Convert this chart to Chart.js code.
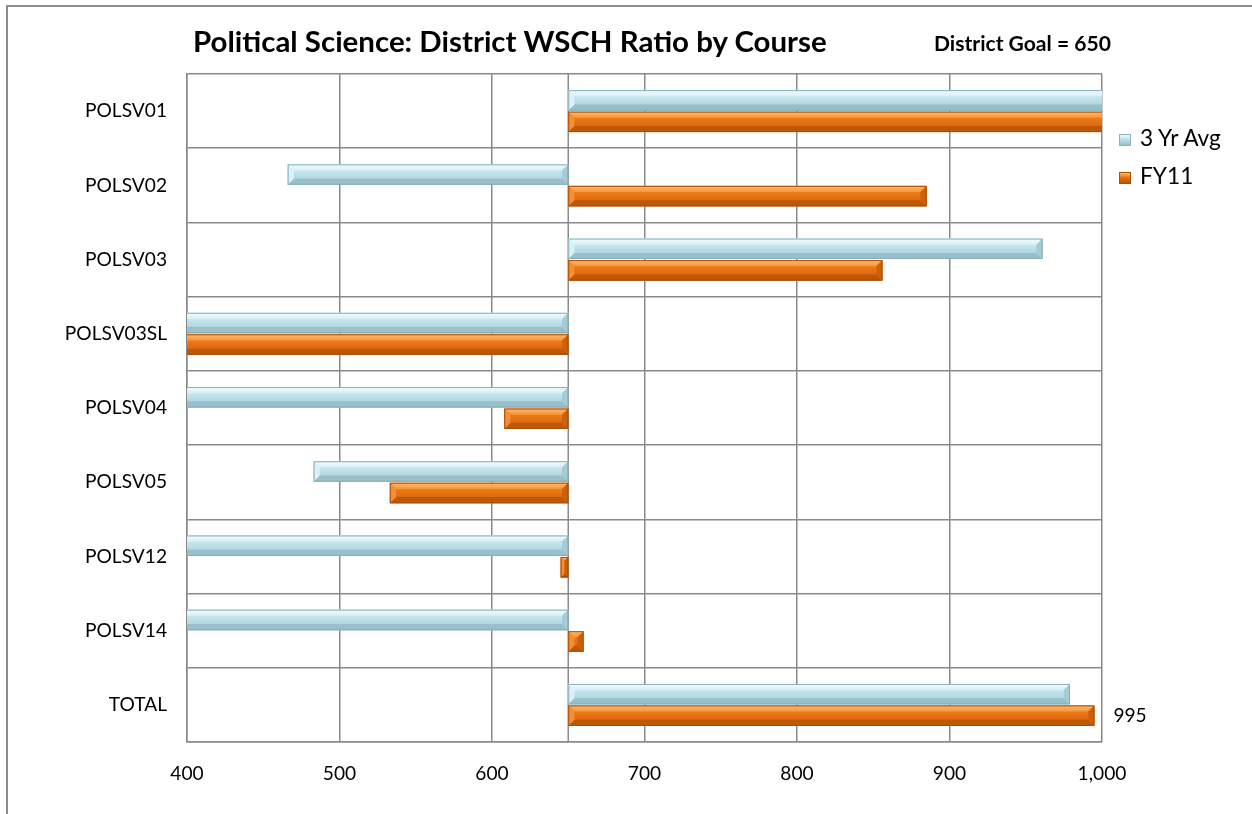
<!DOCTYPE html>
<html>
<head>
<meta charset="utf-8">
<script src="https://cdn.jsdelivr.net/npm/chart.js@4.4.0/dist/chart.umd.min.js"></script>
<style>
  html, body { margin: 0; padding: 0; background: #fff; }
  #wrap { position: relative; width: 1252px; height: 814px; overflow: hidden; }
  #frame { position: absolute; left: 6px; top: 5px; width: 1400px; height: 1000px;
           border-left: 2px solid #8c8c8c; border-top: 2px solid #8c8c8c; box-sizing: border-box; }
  canvas { position: absolute; left: 0; top: 0; }
  .txt { position: absolute; white-space: nowrap; color: #000; margin: 0; padding: 0; }
  .sw { position: absolute; width: 12px; height: 12px; box-sizing: border-box; }
</style>
</head>
<body>
<div id="wrap">
  <div id="frame"></div>
  <canvas id="c" width="1252" height="814"></canvas>
  <div id="title" class="txt"></div>
  <div id="goal" class="txt"></div>
  <div id="legend"></div>
</div>
<script>
// ---------------- data ----------------
const chartTitle = 'Political Science: District WSCH Ratio by Course';
const categories = ['POLSV01', 'POLSV02', 'POLSV03', 'POLSV03SL', 'POLSV04', 'POLSV05', 'POLSV12', 'POLSV14', 'TOTAL'];
const threeYrAvg = [1060, 466, 961, 340, 330, 483, 350, 360, 979];
const fy11       = [1090, 885, 856, 320, 608, 533, 645, 660, 995];
const seriesNames = ['3 Yr Avg', 'FY11'];
const districtGoal = 650;
const xMin = 400, xMax = 1000, xStep = 100;
const labelledIndex = 8; // FY11 value shown as a data label (TOTAL)

// ---------------- styling ----------------
const FONT = 'Lato';
const fillColors = ['#b9dde7', '#e46c0a'];
const edgeColors = ['#8ab3bf', '#ad5109'];
const palettes = [
  { top: '#f2fbfd', topIn: '#d6eff6', main: ['#c8e7ef', '#b0d6e0'], bottom: '#98bfca', left: '#dcf1f6', right: '#a4cbd6', edge: '#86afbb' },
  { top: '#fdbb70', topIn: '#f7963a', main: ['#ec7c1a', '#e0690c'], bottom: '#bd570a', left: '#f38f35', right: '#cd610b', edge: '#a94f08' }
];
const gridColor = '#8a8a8a';

const mctx = document.createElement('canvas').getContext('2d');
function fitSize(text, weight, target) {
  mctx.font = weight + ' 100px ' + FONT;
  return 100 * target / mctx.measureText(text).width;
}
const labelSize = fitSize('POLSV01', 'normal', 82);
const legendSize = fitSize('3 Yr Avg', 'normal', 83);

function place(el, text, weight, size, left, baseline) {
  mctx.font = weight + ' ' + size + 'px ' + FONT;
  const m = mctx.measureText(text);
  const asc = m.fontBoundingBoxAscent, desc = m.fontBoundingBoxDescent;
  el.textContent = text;
  el.style.font = weight + ' ' + size + 'px ' + FONT;
  el.style.lineHeight = (asc + desc) + 'px';
  el.style.left = left + 'px';
  el.style.top = (baseline - asc) + 'px';
}

// title & goal
const titleEl = document.getElementById('title');
place(titleEl, chartTitle, 'bold', fitSize(chartTitle, 'bold', 635), 193, 52);
const goalText = 'District Goal = ' + districtGoal;
place(document.getElementById('goal'), goalText, 'bold', fitSize(goalText, 'bold', 177), 934, 51);

// legend (html)
const legend = document.getElementById('legend');
seriesNames.forEach((name, i) => {
  const sw = document.createElement('div');
  sw.className = 'sw';
  sw.style.left = '1119px';
  sw.style.top = (134 + i * 38) + 'px';
  sw.style.background = 'linear-gradient(' + palettes[i].top + ',' + fillColors[i] + ' 50%,' + palettes[i].bottom + ')';
  sw.style.border = '1px solid ' + edgeColors[i];
  legend.appendChild(sw);
  const t = document.createElement('div');
  t.className = 'txt';
  legend.appendChild(t);
  place(t, name, 'normal', legendSize, 1140, 146 + i * 38);
});

// ---------------- plugins ----------------
const goalLine = {
  id: 'goalLine',
  beforeDatasetsDraw(chart) {
    const { ctx, chartArea: a, scales: { x } } = chart;
    const px = x.getPixelForValue(districtGoal);
    ctx.save();
    ctx.strokeStyle = gridColor;
    ctx.lineWidth = 1.5;
    ctx.beginPath();
    ctx.moveTo(px, a.top);
    ctx.lineTo(px, a.bottom);
    ctx.stroke();
    ctx.restore();
  }
};

const barShadow = {
  id: 'barShadow',
  beforeDatasetsDraw(chart) {
    const ctx = chart.ctx;
    ctx.save();
    ctx.shadowColor = 'rgba(0,0,0,0.35)';
    ctx.shadowBlur = 4;
    ctx.shadowOffsetX = 1.5;
    ctx.shadowOffsetY = 2;
  },
  afterDatasetsDraw(chart) { chart.ctx.restore(); }
};

function poly(ctx, pts, fill) {
  ctx.beginPath();
  ctx.moveTo(pts[0][0], pts[0][1]);
  for (let i = 1; i < pts.length; i++) ctx.lineTo(pts[i][0], pts[i][1]);
  ctx.closePath();
  ctx.fillStyle = fill;
  ctx.fill();
}

function drawBevel(ctx, xL, xR, T, B, c) {
  const h = B - T;
  const b = Math.min(h * 0.3, (xR - xL) / 2);
  const g = ctx.createLinearGradient(0, T + b, 0, B - b);
  g.addColorStop(0, c.main[0]);
  g.addColorStop(1, c.main[1]);
  ctx.fillStyle = g;
  ctx.fillRect(xL, T, xR - xL, h);
  const gt = ctx.createLinearGradient(0, T, 0, T + b);
  gt.addColorStop(0, c.top);
  gt.addColorStop(1, c.topIn);
  poly(ctx, [[xL, T], [xR, T], [xR - b, T + b], [xL + b, T + b]], gt);
  poly(ctx, [[xL, B], [xR, B], [xR - b, B - b], [xL + b, B - b]], c.bottom);
  poly(ctx, [[xL, T], [xL + b, T + b], [xL + b, B - b], [xL, B]], c.left);
  poly(ctx, [[xR, T], [xR - b, T + b], [xR - b, B - b], [xR, B]], c.right);
  ctx.strokeStyle = c.edge;
  ctx.lineWidth = 1;
  ctx.strokeRect(xL + 0.5, T + 0.5, xR - xL - 1, h - 1);
}

const bevel = {
  id: 'bevel',
  afterDatasetsDraw(chart) {
    const ctx = chart.ctx, a = chart.chartArea;
    ctx.save();
    ctx.beginPath();
    ctx.rect(a.left, a.top, a.right - a.left, a.bottom - a.top);
    ctx.clip();
    chart.data.datasets.forEach((ds, i) => {
      chart.getDatasetMeta(i).data.forEach(el => {
        const p = el.getProps(['x', 'y', 'base', 'height'], true);
        const xL = Math.min(p.x, p.base), xR = Math.max(p.x, p.base);
        drawBevel(ctx, xL, xR, p.y - p.height / 2, p.y + p.height / 2, palettes[i]);
      });
    });
    ctx.restore();
  }
};

const valueLabel = {
  id: 'valueLabel',
  afterDatasetsDraw(chart) {
    const ctx = chart.ctx;
    const el = chart.getDatasetMeta(1).data[labelledIndex];
    const p = el.getProps(['x', 'y'], true);
    ctx.save();
    ctx.font = 'normal ' + labelSize + 'px ' + FONT;
    ctx.fillStyle = '#000';
    ctx.textAlign = 'left';
    ctx.textBaseline = 'middle';
    ctx.fillText(fy11[labelledIndex].toLocaleString('en-US'), p.x + 19, p.y);
    ctx.restore();
  }
};

// ---------------- chart ----------------
new Chart(document.getElementById('c'), {
  type: 'bar',
  data: {
    labels: categories,
    datasets: seriesNames.map((name, s) => ({
      label: name,
      data: [threeYrAvg, fy11][s].map(v => [districtGoal, v]),
      backgroundColor: fillColors[s],
      borderColor: edgeColors[s],
      borderWidth: 1,
      borderSkipped: false,
      categoryPercentage: 0.58,
      barPercentage: 0.95
    }))
  },
  options: {
    indexAxis: 'y',
    responsive: false,
    animation: false,
    devicePixelRatio: 1,
    layout: { padding: { left: 0, right: 150, top: 74, bottom: 0 } },
    plugins: {
      legend: { display: false },
      tooltip: { enabled: false },
      title: { display: false }
    },
    scales: {
      x: {
        min: xMin, max: xMax,
        ticks: { stepSize: xStep, color: '#000', font: { family: FONT, size: labelSize }, padding: 20, maxRotation: 0,
                 callback: v => Number(v).toLocaleString('en-US') },
        grid: { color: gridColor, lineWidth: 1.5, drawTicks: false },
        border: { color: gridColor, width: 1.5 },
        afterFit(s) { s.height = 72; }
      },
      y: {
        ticks: { color: '#000', font: { family: FONT, size: labelSize }, padding: 20 },
        grid: { color: gridColor, lineWidth: 1.5, drawTicks: false, offset: true },
        border: { color: gridColor, width: 1.5 },
        afterFit(s) { s.width = 187; }
      }
    }
  },
  plugins: [goalLine, barShadow, bevel, valueLabel]
});
</script>
</body>
</html>
